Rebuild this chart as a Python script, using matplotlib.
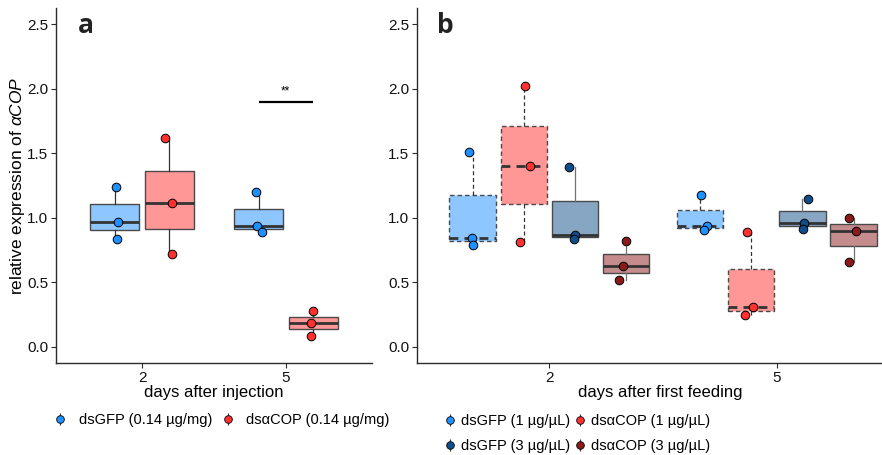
import numpy as np
import matplotlib
matplotlib.use("Agg")
import matplotlib.pyplot as plt
from matplotlib.colors import to_rgba
from matplotlib.lines import Line2D
from matplotlib.legend_handler import HandlerTuple

plt.rcParams["font.family"] = ["Liberation Sans", "DejaVu Sans"]
plt.rcParams["mathtext.fontset"] = "custom"
plt.rcParams["mathtext.it"] = "Liberation Sans:italic"
plt.rcParams["mathtext.rm"] = "Liberation Sans"

# ---- data -------------------------------------------------------------
days = ["2", "5"]

# panel a: injection (per day: three replicates)
inj_labels = ["dsGFP (0.14 µg/mg)", "dsαCOP (0.14 µg/mg)"]
inj_gfp = [[1.236, 0.971, 0.837], [1.200, 0.940, 0.891]]
inj_cop = [[1.619, 1.112, 0.718], [0.276, 0.185, 0.085]]

# panel b: feeding
feed_labels = ["dsGFP (1 µg/µL)", "dsαCOP (1 µg/µL)",
               "dsGFP (3 µg/µL)", "dsαCOP (3 µg/µL)"]
feed_gfp1 = [[1.509, 0.847, 0.788], [1.174, 0.940, 0.909]]
feed_cop1 = [[2.021, 1.401, 0.814], [0.891, 0.309, 0.245]]
feed_gfp3 = [[1.395, 0.865, 0.834], [1.146, 0.958, 0.914]]
feed_cop3 = [[0.819, 0.623, 0.515], [1.002, 0.896, 0.659]]

sig_day = "5"
sig_text = "**"
sig_level = 1.9

yticks = [0.0, 0.5, 1.0, 1.5, 2.0, 2.5]

# ---- styling ------------------------------------------------------------
C_GFP1 = "#1E90FF"
C_COP1 = "#FF3030"
C_GFP3 = "#104E8B"
C_COP3 = "#8B1A1A"
AXC = "#2b2b2b"
DASH = (0, (3.2, 2.2))

rng = np.random.default_rng(7)

W, H = 882, 455
fig = plt.figure(figsize=(W / 100, H / 100), dpi=100)


def fig_rect(x0, x1, ytop, ybot):
    return [x0 / W, 1 - ybot / H, (x1 - x0) / W, (ybot - ytop) / H]


ax_a = fig.add_axes(fig_rect(56, 372, 8, 363))
ax_b = fig.add_axes(fig_rect(417, 903, 8, 363))


def draw_group(ax, data, offset, width, color, dashed, wcolor):
    pos = [i + 1 + offset for i in range(len(data))]
    ls = DASH if dashed else "-"
    bp = ax.boxplot(
        data, positions=pos, widths=width, patch_artist=True,
        showfliers=False, showcaps=False, manage_ticks=False,
        boxprops=dict(facecolor=to_rgba(color, 0.5), edgecolor="#4a4a4a",
                      linewidth=1.0),
        medianprops=dict(color="#333333", linewidth=2.0, linestyle=ls),
        whiskerprops=dict(color=wcolor, linewidth=0.9, linestyle=ls),
        zorder=2,
    )
    for box in bp["boxes"]:
        box.set_linestyle(ls)
    for p, vals in zip(pos, data):
        jit = rng.uniform(-0.03, 0.03, len(vals))
        ax.plot(p + jit, vals, "o", ms=6.2, mfc=color, mec="black",
                mew=0.7, ls="none", zorder=3, clip_on=False)


def style_axes(ax, xlim, xlabel):
    ax.set_xlim(*xlim)
    ax.set_ylim(-0.125, 2.625)
    ax.set_xticks(range(1, len(days) + 1))
    ax.set_xticklabels(days)
    ax.set_yticks(yticks)
    ax.set_yticklabels([f"{v:.1f}" for v in yticks])
    for s in ("top", "right"):
        ax.spines[s].set_visible(False)
    for s in ("left", "bottom"):
        ax.spines[s].set_color(AXC)
        ax.spines[s].set_linewidth(1.0)
    ax.tick_params(length=3.5, width=0.8, color=AXC, labelsize=11,
                   labelcolor="#111111", pad=2)
    ax.set_xlabel(xlabel, fontsize=12, labelpad=0)


# panel a
draw_group(ax_a, inj_gfp, -0.19, 0.34, C_GFP1, False, "#333333")
draw_group(ax_a, inj_cop, 0.19, 0.34, C_COP1, False, "#333333")
style_axes(ax_a, (0.4, 2.6), "days after injection")
ax_a.set_ylabel("relative expression of $\\mathit{αCOP}$", fontsize=12.5,
                labelpad=0.5)
sx = days.index(sig_day) + 1
ax_a.plot([sx - 0.19, sx + 0.19], [sig_level, sig_level], color="black",
          lw=1.6, solid_capstyle="butt")
ax_a.text(sx, sig_level + 0.03, sig_text, ha="center", va="bottom",
          fontsize=8.5)
ax_a.text(0.095, 0.95, "a", transform=ax_a.transAxes, fontsize=19,
          fontweight="bold", family="Open Sans", ha="center", va="center",
          color="#222222")

# panel b
feed_sets = [
    (feed_gfp1, C_GFP1, True, "#333333"),
    (feed_cop1, C_COP1, True, "#333333"),
    (feed_gfp3, C_GFP3, False, "#707070"),
    (feed_cop3, C_COP3, False, "#707070"),
]
for k, (data, col, dashed, wc) in enumerate(feed_sets):
    draw_group(ax_b, data, (k - 1.5) * 0.225, 0.204, col, dashed, wc)
style_axes(ax_b, (0.418, 2.555), "days after first feeding")
ax_b.text(0.059, 0.95, "b", transform=ax_b.transAxes, fontsize=19,
          fontweight="bold", family="Open Sans", ha="center", va="center",
          color="#222222")


# legends
def key(color):
    return (Line2D([], [], color="#333333", lw=0, marker="|", ms=8, mew=0.8),
            Line2D([], [], color=color, lw=0, marker="o", ms=5.5,
                   mfc=color, mec="black", mew=0.6))


hmap = {tuple: HandlerTuple(ndivide=1, pad=0)}
leg_a = fig.legend(
    [key(C_GFP1), key(C_COP1)], inj_labels, handler_map=hmap,
    loc="center left", bbox_to_anchor=(53 / W, 1 - 420 / H), ncol=2,
    frameon=False, fontsize=10.5, handlelength=1.0, handletextpad=0.75,
    columnspacing=0.6, borderpad=0, borderaxespad=0,
)
leg_b = fig.legend(
    [key(C_GFP1), key(C_GFP3), key(C_COP1), key(C_COP3)],
    [feed_labels[0], feed_labels[2], feed_labels[1], feed_labels[3]],
    handler_map=hmap,
    loc="center left", bbox_to_anchor=(443 / W, 1 - 433.5 / H), ncol=2,
    frameon=False, fontsize=10.5, handlelength=1.0, handletextpad=0.25,
    columnspacing=0.15, borderpad=0, borderaxespad=0, labelspacing=0.75,
)

fig.savefig("out.png", dpi=100)
